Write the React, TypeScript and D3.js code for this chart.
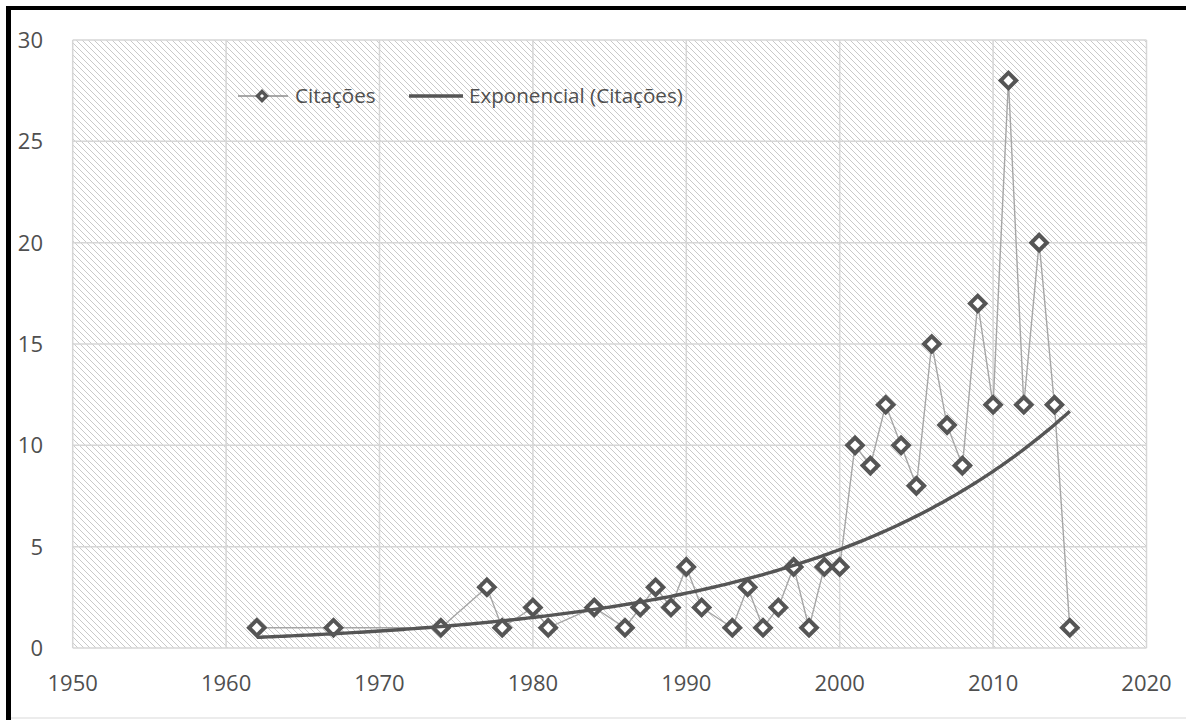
import React, { useEffect, useRef } from 'react';
import * as d3 from 'd3';

// Citations per year
const years = [
  1962, 1967, 1974, 1977, 1978, 1980, 1981, 1984, 1986, 1987, 1988, 1989, 1990,
  1991, 1993, 1994, 1995, 1996, 1997, 1998, 1999, 2000, 2001, 2002, 2003, 2004,
  2005, 2006, 2007, 2008, 2009, 2010, 2011, 2012, 2013, 2014, 2015,
];
const citacoes = [
  1, 1, 1, 3, 1, 2, 1, 2, 1, 2, 3, 2, 4,
  2, 1, 3, 1, 2, 4, 1, 4, 4, 10, 9, 12, 10,
  8, 15, 11, 9, 17, 12, 28, 12, 20, 12, 1,
];
const xTicks = [1950, 1960, 1970, 1980, 1990, 2000, 2010, 2020];
const yTicks = [0, 5, 10, 15, 20, 25, 30];
const seriesName = 'Citações';
const trendName = 'Exponencial (Citações)';

const App: React.FC = () => {
  const svgRef = useRef<SVGSVGElement>(null);

  useEffect(() => {
    if (!svgRef.current) return;
    const svg = d3.select(svgRef.current);
    svg.selectAll('*').remove();

    const width = 1186;
    const height = 720;
    const left = 72.7;
    const right = 1146.5;
    const top = 40;
    const bottom = 648;

    const font = '"Open Sans", "Noto Sans", sans-serif';
    const textColor = '#4f4f4f';
    const gridColor = '#d6d6d6';
    const markerColor = '#555555';
    const lineColor = '#a6a6a6';
    const tickFontSize = 22;
    const legendFontSize = 20.6;

    svg.attr('width', width).attr('height', height);
    svg.append('rect').attr('width', width).attr('height', height).attr('fill', '#fff');

    // hatch pattern for plot area (downward diagonal)
    const defs = svg.append('defs');
    const pat = defs.append('pattern')
      .attr('id', 'hatch')
      .attr('patternUnits', 'userSpaceOnUse')
      .attr('width', 6)
      .attr('height', 6);
    pat.append('rect').attr('width', 6).attr('height', 6).attr('fill', '#fff');
    pat.append('path')
      .attr('d', 'M-1,-1 L7,7 M-1,5 L1,7 M5,-1 L7,1')
      .attr('stroke', '#c9c9c9')
      .attr('stroke-width', 1);

    const x = d3.scaleLinear().domain([1950, 2020]).range([left, right]);
    const y = d3.scaleLinear().domain([0, 30]).range([bottom, top]);

    svg.append('rect')
      .attr('x', left).attr('y', top)
      .attr('width', right - left).attr('height', bottom - top)
      .attr('fill', 'url(#hatch)');

    // grid + tick labels
    yTicks.forEach(t => {
      svg.append('line')
        .attr('x1', left).attr('x2', right)
        .attr('y1', y(t)).attr('y2', y(t))
        .attr('stroke', gridColor).attr('stroke-width', 1.5);
      svg.append('text')
        .attr('x', 43).attr('y', y(t))
        .attr('dy', '0.36em')
        .attr('text-anchor', 'end')
        .attr('font-family', font).attr('font-size', tickFontSize)
        .attr('fill', textColor)
        .text(t);
    });
    xTicks.forEach(t => {
      svg.append('line')
        .attr('x1', x(t)).attr('x2', x(t))
        .attr('y1', top).attr('y2', bottom)
        .attr('stroke', gridColor).attr('stroke-width', 1.5);
      svg.append('text')
        .attr('x', x(t)).attr('y', 683)
        .attr('dy', '0.36em')
        .attr('text-anchor', 'middle')
        .attr('font-family', font).attr('font-size', tickFontSize)
        .attr('fill', textColor)
        .text(t);
    });

    // data line
    const pts: [number, number][] = years.map((yr, i) => [yr, citacoes[i]]);
    const line = d3.line<[number, number]>().x(d => x(d[0])).y(d => y(d[1]));
    svg.append('path')
      .attr('d', line(pts))
      .attr('fill', 'none')
      .attr('stroke', lineColor)
      .attr('stroke-width', 1.4);

    // markers (rotated squares)
    const diamond = d3.symbol().type(d3.symbolSquare).size(120);
    pts.forEach(p => {
      svg.append('path')
        .attr('d', diamond())
        .attr('transform', `translate(${x(p[0])},${y(p[1])}) rotate(45)`)
        .attr('fill', '#fff')
        .attr('stroke', markerColor)
        .attr('stroke-width', 4);
    });

    // exponential trendline (least squares on ln y, like Excel)
    const mx = d3.mean(years) as number;
    const lnY = citacoes.map(v => Math.log(v));
    const my = d3.mean(lnY) as number;
    let sxy = 0;
    let sxx = 0;
    years.forEach((yr, i) => {
      sxy += (yr - mx) * (lnY[i] - my);
      sxx += (yr - mx) * (yr - mx);
    });
    const b = sxy / sxx;
    const a = my - b * mx;
    const x0 = d3.min(years) as number;
    const x1 = d3.max(years) as number;
    const trend: [number, number][] = d3.range(x0, x1 + 0.001, 0.25)
      .map(t => [t, Math.exp(a + b * t)]);
    svg.append('path')
      .attr('d', line(trend))
      .attr('fill', 'none')
      .attr('stroke', '#555555')
      .attr('stroke-width', 3.4);

    // legend
    const ly0 = 96;
    svg.append('line')
      .attr('x1', 238).attr('x2', 288).attr('y1', ly0).attr('y2', ly0)
      .attr('stroke', '#8c8c8c').attr('stroke-width', 1.4);
    svg.append('path')
      .attr('d', d3.symbol().type(d3.symbolSquare).size(40)())
      .attr('transform', `translate(262,${ly0}) rotate(45)`)
      .attr('fill', '#fff')
      .attr('stroke', markerColor)
      .attr('stroke-width', 3.4);
    svg.append('text')
      .attr('x', 295).attr('y', ly0).attr('dy', '0.36em')
      .attr('font-family', font).attr('font-size', legendFontSize)
      .attr('fill', textColor)
      .text(seriesName);
    svg.append('line')
      .attr('x1', 409).attr('x2', 463).attr('y1', ly0).attr('y2', ly0)
      .attr('stroke', '#555555').attr('stroke-width', 3.4);
    svg.append('text')
      .attr('x', 469).attr('y', ly0).attr('dy', '0.36em')
      .attr('font-family', font).attr('font-size', legendFontSize)
      .attr('fill', textColor)
      .text(trendName);

    // frame
    svg.append('line')
      .attr('x1', 8.5).attr('x2', 8.5).attr('y1', 6).attr('y2', height)
      .attr('stroke', '#000').attr('stroke-width', 5);
    svg.append('line')
      .attr('x1', 6).attr('x2', width).attr('y1', 8).attr('y2', 8)
      .attr('stroke', '#000').attr('stroke-width', 4);
    svg.append('line')
      .attr('x1', 11).attr('x2', width).attr('y1', 718).attr('y2', 718)
      .attr('stroke', '#e6e6e6').attr('stroke-width', 1.5);
  }, []);

  return (
    <div style={{ position: 'absolute', left: 0, top: 0 }}>
      <svg ref={svgRef}></svg>
    </div>
  );
};

export default App;
